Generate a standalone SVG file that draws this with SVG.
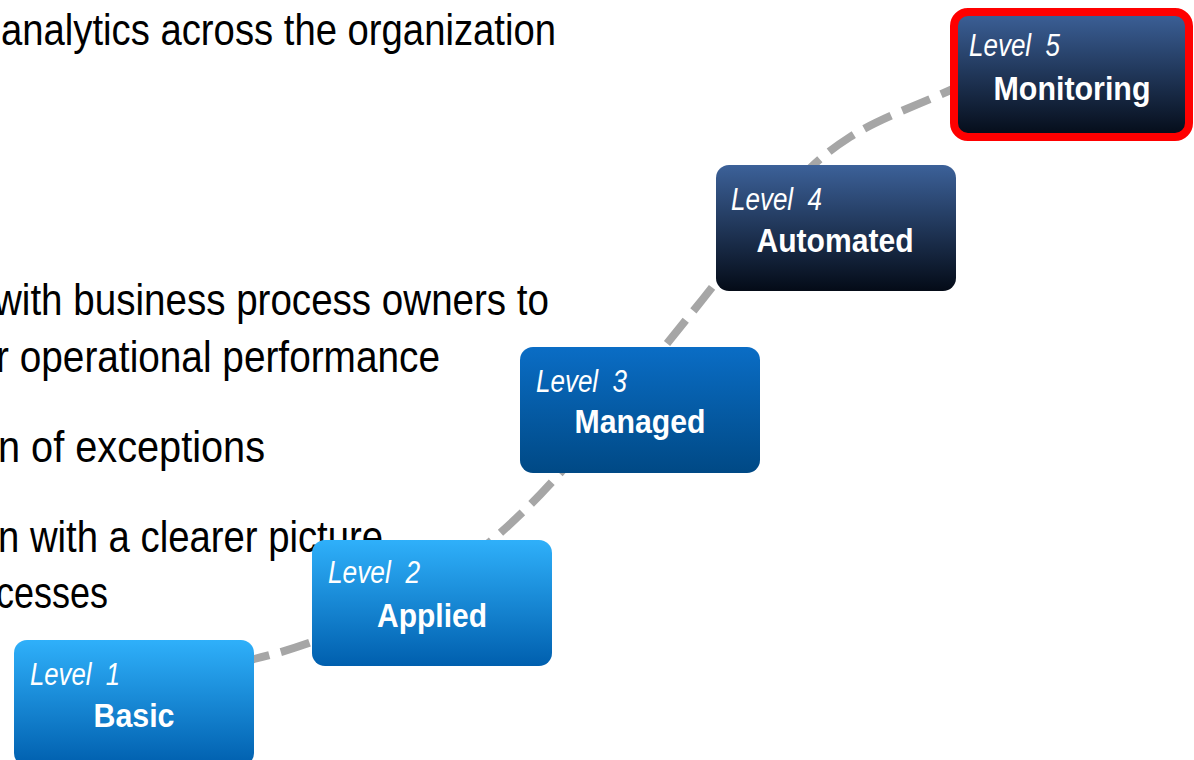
<svg xmlns="http://www.w3.org/2000/svg" width="1194" height="760" viewBox="0 0 1194 760">
<defs>
<linearGradient id="gLight" x1="0" y1="0" x2="0" y2="1">
<stop offset="0" stop-color="#2fb0fa"/>
<stop offset="1" stop-color="#005fae"/>
</linearGradient>
<linearGradient id="gMid" x1="0" y1="0" x2="0" y2="1">
<stop offset="0" stop-color="#0a6dc5"/>
<stop offset="1" stop-color="#004985"/>
</linearGradient>
<linearGradient id="gDark" x1="0" y1="0" x2="0" y2="1">
<stop offset="0" stop-color="#3c6199"/>
<stop offset="1" stop-color="#040b17"/>
</linearGradient>
<style>
.body{font-family:"Liberation Sans Narrow","Liberation Sans",Arial,sans-serif;font-size:44px;fill:#000}
.lvl{font-family:"Liberation Sans Narrow","Liberation Sans",Arial,sans-serif;font-size:31px;font-style:italic;fill:#fff;white-space:pre}
.name{font-family:"Liberation Sans Narrow","Liberation Sans",Arial,sans-serif;font-size:34px;font-weight:bold;fill:#fff;text-anchor:middle}
.conn{fill:none;stroke:#a6a6a6;stroke-width:8;stroke-dasharray:30 12}
</style>
</defs>
<rect width="1194" height="760" fill="#fff"/>
<g id="bodytext">
<text class="body" x="1" y="45" textLength="555" lengthAdjust="spacingAndGlyphs">analytics across the organization</text>
<text class="body" x="-6" y="315" textLength="555" lengthAdjust="spacingAndGlyphs">with business process owners to</text>
<text class="body" x="-4" y="372" textLength="444" lengthAdjust="spacingAndGlyphs">r operational performance</text>
<text class="body" x="-2" y="462" textLength="267" lengthAdjust="spacingAndGlyphs">n of exceptions</text>
<text class="body" x="-2" y="552" textLength="385" lengthAdjust="spacingAndGlyphs">n with a clearer picture</text>
<text class="body" x="-4" y="608" textLength="112" lengthAdjust="spacingAndGlyphs">cesses</text>
</g>
<g id="connectors">
<path class="conn" d="M240,662 C300,650 351.7,628.2 400,602 C448.3,575.8 481.7,552.8 530,505 C578.3,457.2 648.3,365.8 690,315 C731.7,264.2 753.3,229.7 780,200 C806.7,170.3 820.8,155.7 850,137 C879.2,118.3 920,104.3 955,88"/>
</g>
<g id="level1">
<rect x="14" y="640" width="240" height="126" rx="13" fill="url(#gLight)"/>
<text class="lvl" xml:space="preserve" x="30" y="685" textLength="90" lengthAdjust="spacingAndGlyphs">Level  1</text>
<text class="name" x="134" y="727" textLength="81" lengthAdjust="spacingAndGlyphs">Basic</text>
</g>
<g id="level2">
<rect x="312" y="540" width="240" height="126" rx="13" fill="url(#gLight)"/>
<text class="lvl" xml:space="preserve" x="328" y="583" textLength="92" lengthAdjust="spacingAndGlyphs">Level  2</text>
<text class="name" x="432" y="627" textLength="110" lengthAdjust="spacingAndGlyphs">Applied</text>
</g>
<g id="level3">
<rect x="520" y="347" width="240" height="126" rx="13" fill="url(#gMid)"/>
<text class="lvl" xml:space="preserve" x="536" y="392" textLength="91" lengthAdjust="spacingAndGlyphs">Level  3</text>
<text class="name" x="640" y="433" textLength="131" lengthAdjust="spacingAndGlyphs">Managed</text>
</g>
<g id="level4">
<rect x="716" y="165" width="240" height="126" rx="13" fill="url(#gDark)"/>
<text class="lvl" xml:space="preserve" x="731" y="210" textLength="91" lengthAdjust="spacingAndGlyphs">Level  4</text>
<text class="name" x="835" y="252" textLength="157" lengthAdjust="spacingAndGlyphs">Automated</text>
</g>
<g id="level5">
<rect x="954" y="12" width="235" height="125" rx="14" fill="url(#gDark)" stroke="#ff0000" stroke-width="8"/>
<text class="lvl" xml:space="preserve" x="969" y="56" textLength="91" lengthAdjust="spacingAndGlyphs">Level  5</text>
<text class="name" x="1072" y="100" textLength="157" lengthAdjust="spacingAndGlyphs">Monitoring</text>
</g>
</svg>
